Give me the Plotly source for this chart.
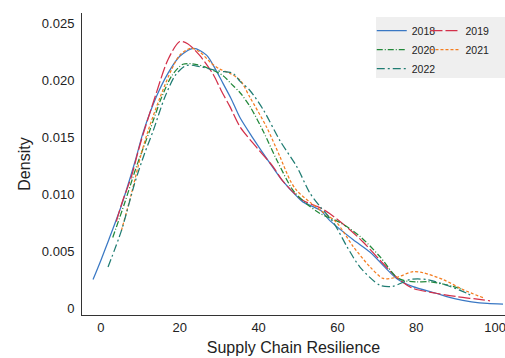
import plotly.graph_objects as go

# ---- data ----
x_2018 = [-2, 0, 2, 5, 8.6, 10.7, 14, 17, 20, 23.5, 26.8, 29, 31, 33, 35.3, 38.6, 42.9, 46, 49.7, 51.3, 55.6, 58, 64, 68.3, 75, 79, 85, 90, 94, 98, 102]
y_2018 = [0.0025, 0.0042, 0.006, 0.0088, 0.0128, 0.0154, 0.0185, 0.0206, 0.0221, 0.0228, 0.0222, 0.0210, 0.0197, 0.0184, 0.0167, 0.0149, 0.0127, 0.0112, 0.0098, 0.0093, 0.0086, 0.0077, 0.0060, 0.0049, 0.0026, 0.0019, 0.0013, 0.0008, 0.00055, 0.0004, 0.00035]

x_2019 = [3.9, 5.5, 7.7, 9.4, 10.3, 13.7, 17, 20, 22, 25, 28.5, 30.5, 32.7, 35.3, 39.5, 43.7, 46, 51, 55.6, 58, 62.4, 66.5, 70.8, 75, 79, 85, 90.3, 95, 98.7]
y_2019 = [0.0076, 0.0094, 0.0115, 0.0137, 0.0148, 0.0185, 0.0218, 0.0234, 0.0232, 0.0222, 0.0205, 0.0191, 0.0177, 0.0159, 0.0141, 0.0124, 0.0112, 0.0095, 0.0088, 0.0083, 0.0071, 0.0058, 0.0042, 0.0027, 0.00175, 0.0013, 0.0010, 0.0008, 0.00064]

x_2020 = [3, 6, 9, 12.4, 15.4, 18, 20.8, 24, 26.8, 31, 33, 35.3, 37.8, 41.2, 44.6, 48.8, 52, 55.6, 60.7, 65.7, 70.8, 75, 77, 80, 83.5, 89.3, 92]
y_2020 = [0.0062, 0.0092, 0.0124, 0.0156, 0.0185, 0.0204, 0.0214, 0.0214, 0.0211, 0.0204, 0.0197, 0.0189, 0.0177, 0.0155, 0.0130, 0.0103, 0.0092, 0.0083, 0.0075, 0.0063, 0.0045, 0.0027, 0.0024, 0.0023, 0.0023, 0.0019, 0.0016]

x_2021 = [5.2, 7.7, 10.2, 12, 15, 18, 20, 22.8, 25, 28, 30, 32.7, 35.3, 37.8, 42, 45.4, 48, 49.7, 53, 56, 59.8, 64, 68.3, 71.6, 75, 79.2, 81.7, 86.8, 92, 97]
y_2021 = [0.0068, 0.0100, 0.0135, 0.0156, 0.0185, 0.0210, 0.0222, 0.0228, 0.0225, 0.0215, 0.0210, 0.0206, 0.0200, 0.0185, 0.0159, 0.0133, 0.0112, 0.0103, 0.0093, 0.0085, 0.0075, 0.0054, 0.0036, 0.0026, 0.0027, 0.0032, 0.0031, 0.0025, 0.0016, 0.0009]

x_2022 = [1.8, 5.2, 8.6, 11, 13.3, 16.2, 19, 21.7, 25, 30, 33.5, 35.3, 37.8, 41.2, 45.4, 49.7, 53, 55.6, 59, 62.4, 65.7, 70.8, 74, 78.4, 82.7, 87.7, 92.8, 94.4]
y_2022 = [0.0036, 0.0068, 0.0110, 0.0135, 0.0156, 0.0185, 0.0205, 0.0213, 0.0212, 0.0208, 0.0206, 0.0199, 0.0191, 0.0174, 0.0147, 0.0124, 0.0101, 0.0089, 0.0075, 0.0054, 0.0036, 0.0020, 0.0019, 0.0025, 0.0025, 0.0020, 0.0013, 0.0010]

x_tickvals = [0, 20, 40, 60, 80, 100]
x_ticktext = ["0", "20", "40", "60", "80", "100"]
y_tickvals = [0, 0.005, 0.010, 0.015, 0.020, 0.025]
y_ticktext = ["0", "0.005", "0.010", "0.015", "0.020", "0.025"]

series = [
    ("2018", x_2018, y_2018, "#3a78c4", "solid", "legend"),
    ("2019", x_2019, y_2019, "#d3304a", "12px,3px", "legend2"),
    ("2020", x_2020, y_2020, "#22883a", "6px,2px,1px,2px", "legend"),
    ("2021", x_2021, y_2021, "#f47d20", "3px,2px", "legend2"),
    ("2022", x_2022, y_2022, "#1f7c72", "8px,3px,2px,3px", "legend"),
]

fig = go.Figure()
for name, xs, ys, col, dash, lg in series:
    fig.add_trace(go.Scatter(
        x=xs, y=ys, mode="lines", name=name,
        line=dict(color=col, width=1.25, dash=dash, shape="spline", smoothing=0.8),
        legend=lg,
    ))

FONT = "Liberation Sans, Arial, sans-serif"
legend_common = dict(
    bgcolor="rgba(0,0,0,0)", borderwidth=0,
    font=dict(family=FONT, size=10.5, color="#222"),
    orientation="v", yanchor="top", xanchor="left",
    itemwidth=30, tracegroupgap=0,
)

fig.update_layout(
    width=505, height=358,
    margin=dict(l=82, r=0, t=13, b=43),
    paper_bgcolor="white", plot_bgcolor="white",
    font=dict(family=FONT, size=13, color="#222"),
    xaxis=dict(
        range=[-4.8, 102.5], tickvals=x_tickvals, ticktext=x_ticktext,
        showgrid=False, zeroline=False, showline=True, linecolor="#333", linewidth=1,
        ticks="", ticklabeloverflow="allow",
        title=dict(text="Supply Chain Resilience", standoff=8),
        tickfont=dict(size=13, color="#222"),
    ),
    yaxis=dict(
        range=[-0.00061, 0.0259], tickvals=y_tickvals, ticktext=y_ticktext,
        showgrid=False, zeroline=False, showline=True, linecolor="#333", linewidth=1,
        ticks="", ticklabelstandoff=4, title=dict(text="Density", standoff=7),
        tickfont=dict(size=13, color="#222"),
    ),
    legend=dict(x=0.685, y=0.99, **legend_common),
    legend2=dict(x=0.812, y=0.99, **legend_common),
    shapes=[dict(type="rect", xref="paper", yref="paper", x0=0.695, x1=1.0, y0=0.785, y1=0.987,
                 fillcolor="#efefef", line=dict(width=0), layer="below")],
)

# remove the browser's default 8px body margin so the figure sits at the page origin
fig.write_html(
    "out.html",
    config={"displayModeBar": False},
    post_script="document.body.style.margin='0';document.body.style.overflow='hidden';",
)
